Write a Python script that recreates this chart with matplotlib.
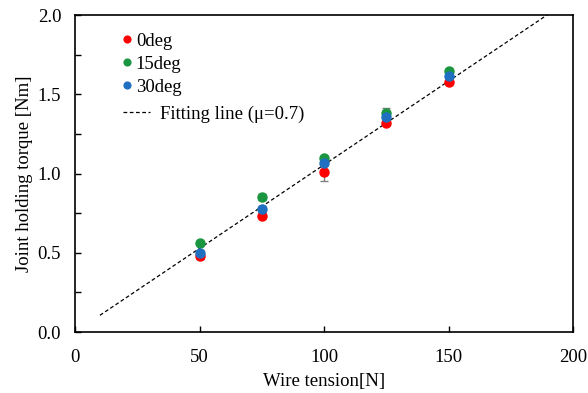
import matplotlib
matplotlib.use("Agg")
import matplotlib.pyplot as plt
import numpy as np
from matplotlib.ticker import MultipleLocator

plt.rcParams['font.family'] = ['Liberation Serif', 'DejaVu Serif']

tension = [50, 75, 100, 125, 150]
torque_0 = [0.48, 0.73, 1.01, 1.32, 1.58]
err_0 = [0.02, 0.01, 0.06, 0.01, 0.01]
torque_15 = [0.56, 0.85, 1.10, 1.38, 1.645]
err_15 = [0.01, 0.02, 0.01, 0.035, 0.01]
torque_30 = [0.50, 0.775, 1.065, 1.355, 1.615]
err_30 = [0.01, 0.02, 0.01, 0.02, 0.01]

fit_x = [10, 190]
fit_slope = 0.01055

FS = 13.5
fig = plt.figure(figsize=(5.88, 3.93), dpi=100)
ax = fig.add_axes([0.1276, 0.1552, 0.8469, 0.8066])

series = [("0deg", torque_0, err_0, "#ff0000"),
          ("15deg", torque_15, err_15, "#1a9641"),
          ("30deg", torque_30, err_30, "#1f70c1")]
pt_handles = []
for label, y, e, c in series:
    ax.errorbar(tension, y, yerr=e, fmt='none', ecolor='#808080',
                elinewidth=1, capsize=3, zorder=3)
    h, = ax.plot(tension, y, 'o', color=c, markersize=6.5, label=label, zorder=4)
    pt_handles.append(h)

fx = np.array(fit_x)
fit_h, = ax.plot(fx, fit_slope * fx, linestyle=(0, (3, 2)), color='black',
                 linewidth=0.9, label="Fitting line (\u03bc=0.7)", zorder=2)

ax.set_xlim(0, 200)
ax.set_ylim(0, 2.0)
ax.set_xticks([0, 50, 100, 150, 200])
ax.set_yticks([0, 0.5, 1.0, 1.5, 2.0])
ax.yaxis.set_minor_locator(MultipleLocator(0.25))
ax.set_yticklabels(["0.0", "0.5", "1.0", "1.5", "2.0"])
ax.tick_params(which='both', direction='in', length=4, width=1, labelsize=FS)
ax.tick_params(axis='x', pad=12)
ax.tick_params(axis='y', pad=10)
for s in ax.spines.values():
    s.set_linewidth(1.2)
ax.set_xlabel("Wire tension[N]", fontsize=FS, labelpad=5)
ax.set_ylabel("Joint holding torque [Nm]", fontsize=FS, labelpad=3)

leg1 = ax.legend(pt_handles, [h.get_label() for h in pt_handles], loc='upper left',
                 bbox_to_anchor=(0.094, 0.945), frameon=False, fontsize=FS,
                 handlelength=0.6, handletextpad=0.15, labelspacing=0.32,
                 borderpad=0, borderaxespad=0, markerscale=0.75)
ax.add_artist(leg1)
ax.legend([fit_h], [fit_h.get_label()], loc='upper left',
          bbox_to_anchor=(0.0964, 0.714), frameon=False, fontsize=FS,
          handlelength=1.45, handletextpad=0.5, borderpad=0, borderaxespad=0)

fig.savefig("out.png", dpi=100)
